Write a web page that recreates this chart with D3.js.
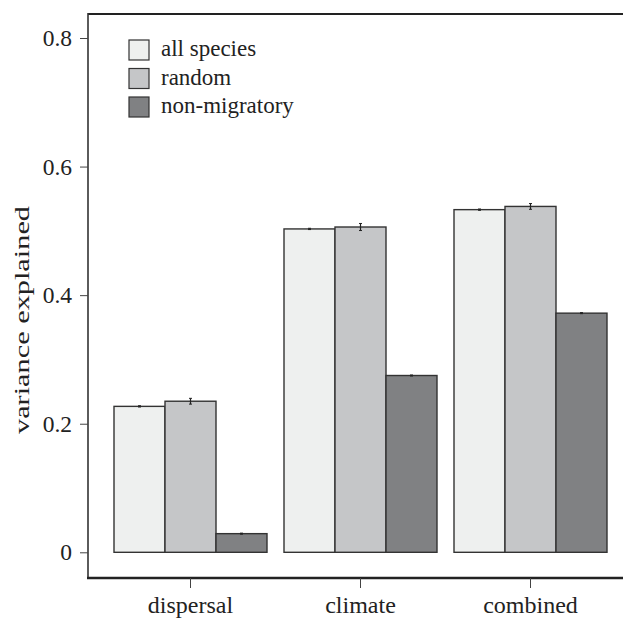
<!DOCTYPE html>
<html><head><meta charset="utf-8">
<script src="https://cdn.jsdelivr.net/npm/d3@7"></script>
<style>html,body{margin:0;padding:0;background:#fff;}svg{display:block;}
svg text{font-family:"Liberation Serif","Times New Roman",Times,"DejaVu Serif",serif;}</style>
</head><body>
<svg id="chart" width="623" height="619"></svg>
<script>
const categories = ["dispersal", "climate", "combined"];
const seriesNames = ["all species", "random", "non-migratory"];
const allSpecies = [0.227, 0.503, 0.533];
const randomVals = [0.235, 0.506, 0.538];
const nonMigratory = [0.029, 0.275, 0.372];
const allSpeciesErr = [0.001, 0.001, 0.001];
const randomErr = [0.0045, 0.0055, 0.0045];
const nonMigratoryErr = [0.0008, 0.0008, 0.0008];
const yTicks = [0, 0.2, 0.4, 0.6, 0.8];
const yTickLabels = ["0", "0.2", "0.4", "0.6", "0.8"];
const yLabel = "variance explained";

const colors = ["#eef0ef", "#c5c6c8", "#808183"];
const series = [allSpecies, randomVals, nonMigratory];
const errs = [allSpeciesErr, randomErr, nonMigratoryErr];

const svg = d3.select("#chart");

const y = d3.scaleLinear().domain([0, 0.8]).range([552.3, 38]);
const x0 = d3.scaleBand().domain(categories).range([105.5, 615.5]).paddingInner(0.1).paddingOuter(0.05);
const x1 = d3.scaleBand().domain(seriesNames).range([0, x0.bandwidth()]);

// frame
svg.append("line").attr("x1", 88).attr("x2", 623).attr("y1", 14).attr("y2", 14).attr("stroke", "#222").attr("stroke-width", 2);
svg.append("line").attr("x1", 88).attr("x2", 88).attr("y1", 13).attr("y2", 579).attr("stroke", "#333").attr("stroke-width", 1.6);
svg.append("line").attr("x1", 87).attr("x2", 623).attr("y1", 578).attr("y2", 578).attr("stroke", "#222").attr("stroke-width", 2.6);

// y axis
const yAxis = d3.axisLeft(y).tickValues(yTicks).tickFormat((d, i) => yTickLabels[i]).tickSize(8).tickPadding(8);
const gy = svg.append("g").attr("transform", "translate(88,0)").call(yAxis);
gy.attr("font-family", null);
gy.select(".domain").remove();
gy.selectAll(".tick line").attr("stroke", "#444").attr("stroke-width", 1);
gy.selectAll(".tick text").attr("font-size", 23.5).attr("fill", "#222");

// x axis
const xAxis = d3.axisBottom(x0).tickSize(10).tickPadding(8);
const gx = svg.append("g").attr("transform", "translate(0,578)").call(xAxis);
gx.attr("font-family", null);
gx.select(".domain").remove();
gx.selectAll(".tick line").attr("stroke", "#444").attr("stroke-width", 1);
gx.selectAll(".tick text").attr("font-size", 24).attr("fill", "#222");

// y label
svg.append("text")
  .attr("transform", "translate(29,320) rotate(-90)")
  .attr("text-anchor", "middle")
  .attr("font-size", 20).attr("fill", "#222")
  .attr("textLength", 228).attr("lengthAdjust", "spacingAndGlyphs")
  .text(yLabel);

// bars
const groups = svg.append("g").selectAll("g").data(categories).join("g")
  .attr("transform", d => `translate(${x0(d)},0)`);
groups.each(function(cat, ci) {
  const g = d3.select(this);
  seriesNames.forEach((s, si) => {
    const v = series[si][ci];
    g.append("rect")
      .attr("x", x1(s)).attr("width", x1.bandwidth())
      .attr("y", y(v)).attr("height", y(0) - y(v))
      .attr("fill", colors[si]).attr("stroke", "#333").attr("stroke-width", 1.4);
    const e = errs[si][ci];
    const cx = x1(s) + x1.bandwidth() / 2;
    g.append("line").attr("x1", cx).attr("x2", cx).attr("y1", y(v + e)).attr("y2", y(v - e))
      .attr("stroke", "#222").attr("stroke-width", 1.2);
    g.append("line").attr("x1", cx - 1.5).attr("x2", cx + 1.5).attr("y1", y(v + e)).attr("y2", y(v + e))
      .attr("stroke", "#222").attr("stroke-width", 1);
    g.append("line").attr("x1", cx - 1.5).attr("x2", cx + 1.5).attr("y1", y(v - e)).attr("y2", y(v - e))
      .attr("stroke", "#222").attr("stroke-width", 1);
  });
});

// legend
const leg = svg.append("g").selectAll("g").data(seriesNames).join("g")
  .attr("transform", (d, i) => `translate(129,${40 + i * 28.5})`);
leg.append("rect").attr("width", 20).attr("height", 20)
  .attr("fill", (d, i) => colors[i]).attr("stroke", "#333").attr("stroke-width", 1.2);
leg.append("text").attr("x", 32).attr("y", 16)
  .attr("font-size", 23).attr("fill", "#222")
  .text(d => d);
</script>
</body></html>
